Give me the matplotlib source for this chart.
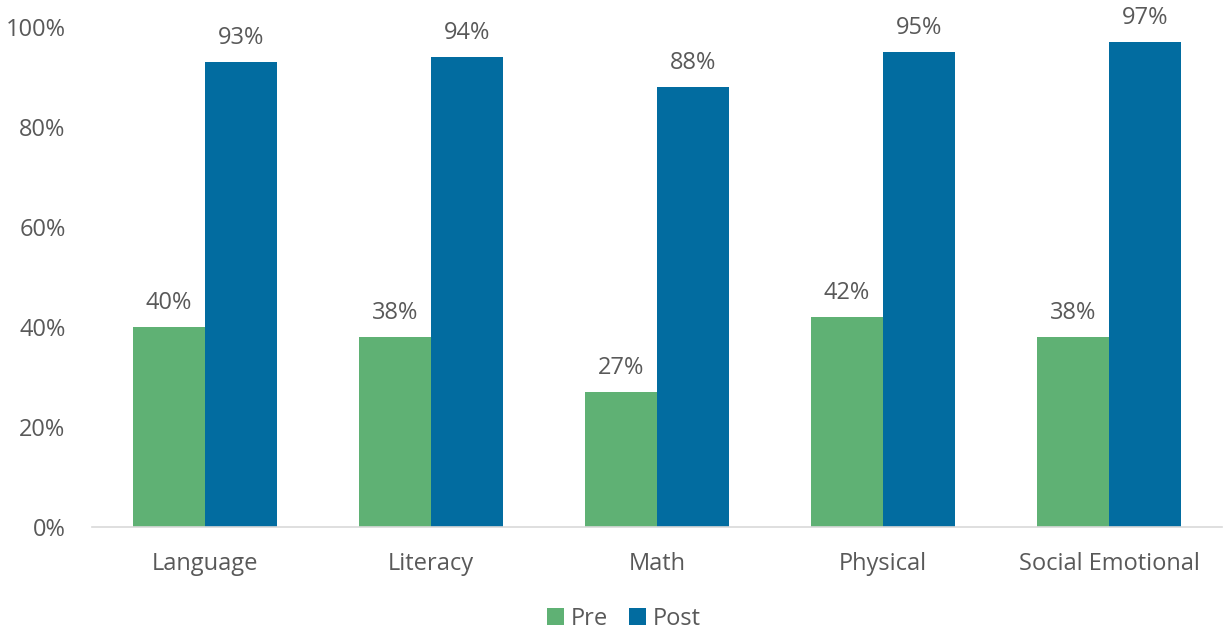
import matplotlib.pyplot as plt
import numpy as np
from matplotlib.ticker import FuncFormatter

plt.rcParams['font.family'] = ['Open Sans', 'DejaVu Sans']

categories = ["Language", "Literacy", "Math", "Physical", "Social Emotional"]
pre = [40, 38, 27, 42, 38]
post = [93, 94, 88, 95, 97]

green = '#5FB174'
blue = '#026CA0'
text_color = '#595959'
fs = 17

fig = plt.figure(figsize=(12.25, 6.35), dpi=100)
ax = fig.add_axes([92/1225, 1 - 527/635, 1130/1225, 500/635])

x = np.arange(len(categories))
w = 0.32
b1 = ax.bar(x - w/2, pre, w, color=green, label='Pre')
b2 = ax.bar(x + w/2, post, w, color=blue, label='Post')

for bars, vals in ((b1, pre), (b2, post)):
    for bar, v in zip(bars, vals):
        ax.text(bar.get_x() + bar.get_width()/2, v + 2.3, f"{v}%",
                ha='center', va='bottom', fontsize=fs, color=text_color)

ax.set_xlim(-0.5, len(categories) - 0.5)
ax.set_ylim(0, 100)
ax.set_yticks(range(0, 101, 20))
ax.yaxis.set_major_formatter(FuncFormatter(lambda v, p: f"{int(v)}%"))
ax.set_xticks(x)
ax.set_xticklabels(categories)
ax.tick_params(axis='both', length=0, labelsize=fs, colors=text_color)
ax.tick_params(axis='x', pad=18)
ax.tick_params(axis='y', pad=19)
for s in ['top', 'right', 'left']:
    ax.spines[s].set_visible(False)
ax.spines['bottom'].set_color('#D9D9D9')
ax.spines['bottom'].set_linewidth(1.2)

leg = fig.legend(handles=[b1, b2], loc='center', bbox_to_anchor=(624/1225, 1 - 619/635),
                 ncol=2, frameon=False, fontsize=fs, handlelength=0.7, handleheight=0.7,
                 handletextpad=0.3, columnspacing=0.9)
for t in leg.get_texts():
    t.set_color(text_color)

fig.savefig('out.png', dpi=100)
